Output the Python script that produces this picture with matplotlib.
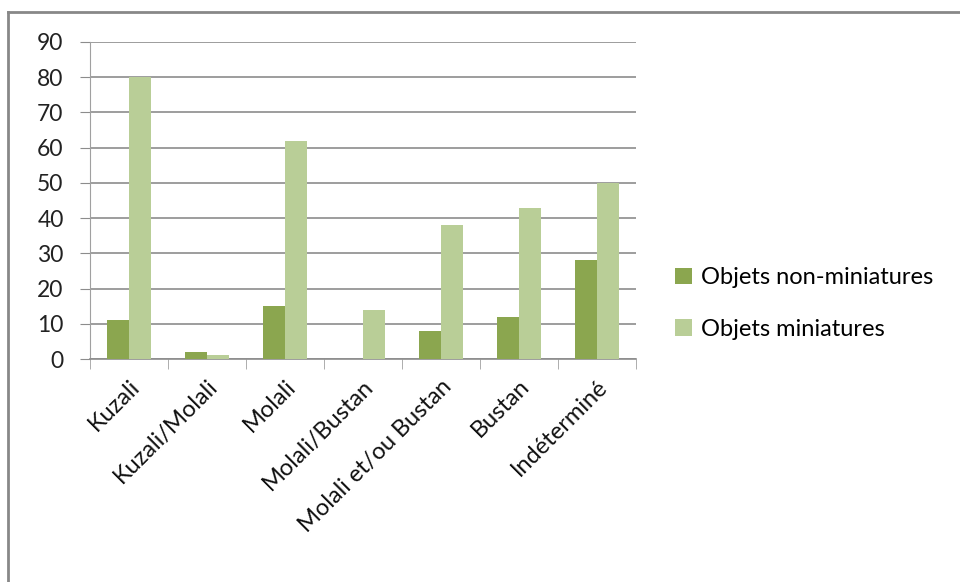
import matplotlib
matplotlib.use("Agg")
import matplotlib.pyplot as plt
import numpy as np
from matplotlib.lines import Line2D

categories = ["Kuzali", "Kuzali/Molali", "Molali", "Molali/Bustan",
              "Molali et/ou Bustan", "Bustan", "Indéterminé"]
non_miniatures = [11, 2, 15, 0, 8, 12, 28]
miniatures = [80, 1, 62, 14, 38, 43, 50]
series_labels = ["Objets non-miniatures", "Objets miniatures"]
yticks = [0, 10, 20, 30, 40, 50, 60, 70, 80, 90]

plt.rcParams['font.family'] = ['Lato', 'DejaVu Sans']

fig = plt.figure(figsize=(9.6, 5.82), dpi=100)
ax = fig.add_axes([90/960, 1-359/582, (636-90)/960, (359-42)/582])

x = np.arange(len(categories))
w = 1/3.5
c1 = "#8BA64F"
c2 = "#B9CE97"
ax.bar(x - w/2, non_miniatures, w, color=c1, label=series_labels[0], zorder=3)
ax.bar(x + w/2, miniatures, w, color=c2, label=series_labels[1], zorder=3)

ax.set_xlim(-0.5, len(categories) - 0.5)
ax.set_ylim(0, 90)
ax.set_yticks(yticks)
ax.set_yticklabels([str(v) for v in yticks], fontsize=16.5, color="#222222")
ax.yaxis.grid(True, color="#8c8c8c", linewidth=1.2, zorder=0)
ax.set_axisbelow(True)
for s in ["top", "right"]:
    ax.spines[s].set_visible(False)
ax.spines["left"].set_color("#a0a0a0")
ax.spines["bottom"].set_color("#8c8c8c")
ax.spines["bottom"].set_linewidth(1.2)
ax.tick_params(axis="y", length=7, color="#8c8c8c", pad=12)
ax.set_xticks(np.arange(len(categories) + 1) - 0.5, minor=True)
ax.set_xticks(x)
ax.set_xticklabels(categories, rotation=45, ha="right", rotation_mode="anchor",
                   fontsize=17, color="#111111")
ax.tick_params(axis="x", which="major", length=0, pad=12)
ax.tick_params(axis="x", which="minor", length=7, color="#a0a0a0")

leg = fig.legend(loc="upper left", bbox_to_anchor=(654/960, 1-246/582), frameon=False,
                 fontsize=17, handlelength=0.7, handleheight=0.7, handletextpad=0.4,
                 labelspacing=1.3)

fig.add_artist(Line2D([8/960, 8/960], [0, 1-12/582], transform=fig.transFigure,
                      color="#888888", linewidth=2))
fig.add_artist(Line2D([8/960, 1], [1-12/582, 1-12/582], transform=fig.transFigure,
                      color="#888888", linewidth=2))

fig.savefig("out.png", dpi=100)
